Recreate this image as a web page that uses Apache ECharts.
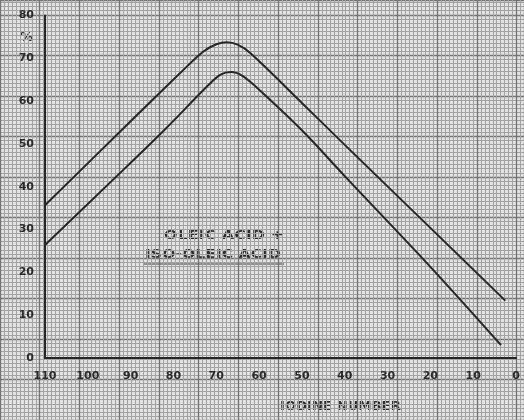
<!DOCTYPE html>
<html>
<head>
<meta charset="utf-8">
<script src="https://cdn.jsdelivr.net/npm/echarts@6/dist/echarts.min.js"></script>
<style>
  html, body { margin: 0; padding: 0; background: #e0e0e0; }
  #chart { width: 524px; height: 420px; }
</style>
</head>
<body>
<div id="chart"></div>
<script>
// iodine number on x (reversed 110 -> 0), percent on y
var xTicks = [110, 100, 90, 80, 70, 60, 50, 40, 30, 20, 10, 0];
var yTicks = [0, 10, 20, 30, 40, 50, 60, 70, 80];

var upperCurve = [
    [110, 35.7], [90, 55.3], [78, 67.0], [73, 71.6], [70, 73.3], [67.5, 73.8],
    [65, 73.2], [62, 71.2], [50, 59.6], [40, 49.8], [20, 30.4], [2.5, 13.4]
];
var lowerCurve = [
    [110, 26.4], [95, 40.8], [82, 53.4], [72, 63.6], [69, 66.2], [66.5, 66.8],
    [64, 66.0], [61, 63.6], [50, 53.2], [40, 42.5], [20, 21.3], [3.5, 3.0]
];

var labelLine1 = 'OLEIC ACID +';
var labelLine2 = 'ISO-OLEIC ACID';
var xTitle = 'IODINE NUMBER';
var yUnit = '%';

var dom = document.getElementById('chart');
var myChart = echarts.init(dom, null, { renderer: 'canvas' });

var U = 4.282; // pixels per unit on the paper
var ink = '#262626';
var fine = '#a3a3a3';
var dark = '#747474';
var textFont = 'bold 12px "DejaVu Sans"';

// graph paper axes (grid 0 spans past the canvas so lines line up with the plot)
function paperX(step, color, w) {
    return {
        gridIndex: 0, type: 'value', min: 0, max: 131.86, interval: step,
        axisLine: { show: false }, axisTick: { show: false }, axisLabel: { show: false },
        splitLine: { show: true, lineStyle: { color: color, width: w } }
    };
}
function paperY(step, color, w) {
    return {
        gridIndex: 0, type: 'value', min: 0, max: 103.64, interval: step,
        axisLine: { show: false }, axisTick: { show: false }, axisLabel: { show: false },
        splitLine: { show: true, lineStyle: { color: color, width: w } }
    };
}

var option = {
    backgroundColor: '#e4e4e4',
    animation: false,
    grid: [
        { left: 45 - 20 * U, right: 0, top: 0, bottom: -23.6 },
        { left: 45, right: 8, top: 15.6, bottom: 62 }
    ],
    xAxis: [
        paperX(1, fine, 1.1),
        paperX(10, dark, 1.3),
        {
            gridIndex: 1, type: 'value', min: 0, max: 110, interval: 10, inverse: true,
            axisLine: { show: true, onZero: false, lineStyle: { color: ink, width: 2 } },
            axisTick: { show: false },
            splitLine: { show: false },
            axisLabel: {
                color: '#2a2a2a', fontSize: 11, fontWeight: 'bold', fontFamily: 'DejaVu Sans',
                margin: 13,
                formatter: function (v) { return xTicks.indexOf(v) >= 0 ? String(v) : ''; }
            }
        }
    ],
    yAxis: [
        paperY(1, fine, 1.1),
        paperY(10, dark, 1.3),
        {
            gridIndex: 1, type: 'value', min: 0, max: 80, interval: 10, position: 'left',
            axisLine: { show: true, onZero: false, lineStyle: { color: ink, width: 2 } },
            axisTick: { show: false },
            splitLine: { show: false },
            axisLabel: {
                color: '#2a2a2a', fontSize: 11, fontWeight: 'bold', fontFamily: 'DejaVu Sans',
                margin: 11,
                formatter: function (v) { return yTicks.indexOf(v) >= 0 ? String(v) : ''; }
            }
        }
    ],
    graphic: [
        { type: 'text', left: 164, top: 230, scaleX: 1.33, style: { text: labelLine1, fill: '#2a2a2a', font: textFont } },
        { type: 'text', left: 145, top: 249, scaleX: 1.3, style: { text: labelLine2, fill: '#2a2a2a', font: textFont } },
        { type: 'line', shape: { x1: 143, y1: 264, x2: 284, y2: 264 }, style: { stroke: '#3a3a3a', lineWidth: 1.2 } },
        { type: 'text', left: 280, top: 401, scaleX: 1.1, style: { text: xTitle, fill: '#2a2a2a', font: textFont } },
        { type: 'text', left: 20, top: 31, style: { text: yUnit, fill: '#2a2a2a', font: 'bold 13px "DejaVu Sans"' } }
    ],
    series: [
        {
            type: 'line', xAxisIndex: 2, yAxisIndex: 2, data: upperCurve,
            smooth: 0.35, symbol: 'none',
            lineStyle: { color: ink, width: 2 }
        },
        {
            type: 'line', xAxisIndex: 2, yAxisIndex: 2, data: lowerCurve,
            smooth: 0.35, symbol: 'none',
            lineStyle: { color: ink, width: 2 }
        }
    ]
};

myChart.setOption(option);
window.addEventListener('resize', myChart.resize);
</script>
</body>
</html>
